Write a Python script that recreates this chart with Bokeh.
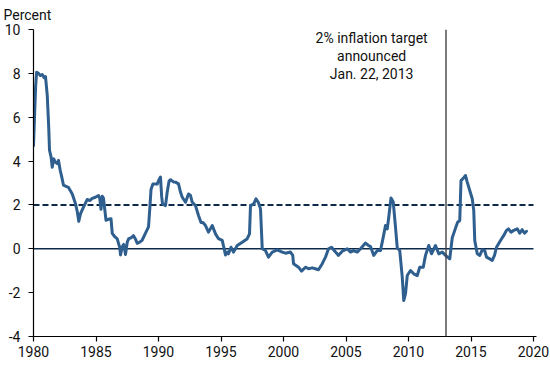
from bokeh.plotting import figure
from bokeh.models import Span, FixedTicker
from bokeh.core.properties import value
from bokeh.embed import file_html
from bokeh.resources import INLINE

# ---- data ----
years = [
    1980.00, 1980.08, 1980.17, 1980.25, 1980.40, 1980.55, 1980.70, 1980.85, 1980.96,
    1981.10, 1981.22, 1981.28, 1981.40, 1981.50, 1981.62, 1981.75, 1981.90,
    1982.00, 1982.14, 1982.25, 1982.40, 1982.60, 1982.80,
    1983.10, 1983.36, 1983.50, 1983.62, 1983.76,
    1984.00, 1984.30, 1984.50, 1984.70, 1984.95,
    1985.20, 1985.30, 1985.40, 1985.50, 1985.60, 1985.80,
    1986.00, 1986.20, 1986.30, 1986.50, 1986.70, 1986.90, 1986.96,
    1987.10, 1987.22, 1987.36, 1987.50, 1987.62, 1987.80,
    1988.00, 1988.15, 1988.30, 1988.50, 1988.70, 1988.95,
    1989.20, 1989.30, 1989.40, 1989.55, 1989.90,
    1990.00, 1990.16, 1990.25, 1990.32, 1990.56, 1990.70, 1990.85, 1990.96,
    1991.20, 1991.36, 1991.60, 1991.75, 1991.90,
    1992.16, 1992.40, 1992.56, 1992.70, 1992.96,
    1993.20, 1993.40, 1993.55, 1993.76,
    1994.00, 1994.30, 1994.56, 1994.80,
    1995.10, 1995.25, 1995.36, 1995.50, 1995.60, 1995.80,
    1996.00, 1996.30, 1996.70,
    1997.10, 1997.28, 1997.36, 1997.62, 1997.80,
    1998.00, 1998.16, 1998.30, 1998.56, 1998.80,
    1999.10, 1999.50, 1999.90,
    2000.16, 2000.56, 2000.74, 2000.80,
    2001.20, 2001.44, 2001.76,
    2002.00, 2002.30, 2002.56, 2002.80,
    2003.10, 2003.36, 2003.60, 2003.84,
    2004.16, 2004.40, 2004.70,
    2005.10, 2005.36, 2005.60, 2005.90,
    2006.16, 2006.56, 2006.80, 2006.96,
    2007.22, 2007.50, 2007.76, 2007.98,
    2008.16, 2008.30, 2008.42, 2008.60, 2008.78, 2008.96,
    2009.10, 2009.30, 2009.50, 2009.62, 2009.76, 2009.90,
    2010.16, 2010.42, 2010.70, 2010.90,
    2011.18, 2011.36, 2011.62, 2011.84,
    2012.16, 2012.42, 2012.70, 2012.96,
    2013.30, 2013.50, 2013.70, 2013.92,
    2014.10, 2014.20, 2014.42, 2014.56, 2014.70, 2014.90,
    2015.10, 2015.22, 2015.30, 2015.50, 2015.70, 2015.90,
    2016.10, 2016.24, 2016.50, 2016.70, 2016.88,
    2017.04, 2017.36, 2017.62, 2017.84,
    2018.00, 2018.20, 2018.42, 2018.70, 2018.90,
    2019.10, 2019.28, 2019.44,
]
inflation = [
    4.7, 6.0, 7.4, 8.05, 8.0, 7.9, 7.95, 7.8, 7.85,
    7.0, 5.5, 4.5, 4.2, 3.72, 4.1, 3.95, 3.88,
    4.03, 3.57, 3.3, 2.9, 2.85, 2.8,
    2.5, 2.05, 1.7, 1.25, 1.6,
    1.9, 2.25, 2.2, 2.3, 2.35,
    2.43, 2.3, 1.8, 2.4, 2.3, 1.3,
    1.35, 1.37, 0.7, 0.55, 0.45, 0.05, -0.28,
    0.1, 0.2, -0.26, 0.3, 0.46, 0.5,
    0.6, 0.45, 0.25, 0.3, 0.4, 0.7,
    1.0, 1.8, 2.7, 2.95, 2.95,
    3.1, 3.27, 2.4, 2.05, 1.97, 2.6, 3.1, 3.15,
    3.05, 3.04, 2.96, 2.6, 2.35,
    2.12, 2.5, 2.43, 2.12, 1.97,
    1.52, 1.2, 1.2, 1.06,
    0.76, 1.06, 0.68, 0.46,
    0.38, 0.0, -0.28, -0.15, -0.23, 0.07,
    -0.15, 0.15, 0.3,
    0.46, 0.68, 1.97, 2.05, 2.28,
    2.1, 1.82, 0.0, -0.08, -0.38,
    -0.15, -0.05, -0.15,
    -0.2, -0.15, -0.3, -0.68,
    -0.84, -1.02, -0.84,
    -0.91, -0.87, -0.91, -0.96,
    -0.68, -0.38, 0.0, 0.07,
    -0.15, -0.3, -0.11,
    0.0, -0.15, -0.08, -0.15,
    0.0, 0.26, 0.15, 0.1,
    -0.3, -0.08, -0.08, 0.53,
    1.06, 0.91, 1.44, 2.32, 2.13, 0.99,
    0.04, -0.08, -1.29, -2.36, -2.05, -1.22,
    -0.99, -1.14, -1.22, -0.84,
    -0.84, -0.3, 0.15, -0.23,
    0.15, -0.23, -0.15, -0.3,
    -0.46, 0.5, 0.84, 1.2,
    1.29, 3.11, 3.24, 3.34, 3.04, 2.66,
    2.28, 1.75, 0.38, -0.23, -0.3, -0.05,
    -0.08, -0.38, -0.46, -0.53, -0.3,
    0.07, 0.38, 0.61, 0.84,
    0.91, 0.76, 0.84, 0.91, 0.71,
    0.87, 0.71, 0.80,
]
target = 2.0
target_year = 2013
unit_label = "Percent"
note_lines = ["2% inflation target", "announced", "Jan. 22, 2013"]
x_ticks = [1980, 1985, 1990, 1995, 2000, 2005, 2010, 2015, 2020]
y_ticks = [-4, -2, 0, 2, 4, 6, 8, 10]
y_labels = ["-4", "-2", "0", "2", "4", "6", "8", "10"]

FONT = "Roboto"
W, H = 550, 365

p = figure(width=W, height=H, x_range=(1980, 2020.24), y_range=(-4, 10),
           output_backend="svg", toolbar_location=None,
           min_border_left=33, min_border_right=14, min_border_top=29,
           min_border_bottom=29, title=unit_label)
p.outline_line_color = None
p.grid.visible = False
p.background_fill_color = "white"
p.border_fill_color = "white"

p.title.text_font = FONT
p.title.text_font_size = "14px"
p.title.text_font_style = "normal"
p.title.text_color = "#111111"
p.title.align = "left"
p.title.vertical_align = "top"
p.title.offset = -30
p.title.standoff = 10

for ax in (p.xaxis[0], p.yaxis[0]):
    ax.axis_line_color = "black"
    ax.axis_line_width = 1.2
    ax.major_tick_line_color = "black"
    ax.major_tick_line_width = 1.2
    ax.major_tick_in = 0
    ax.major_tick_out = 5
    ax.minor_tick_line_color = None
    ax.major_label_text_font = FONT
    ax.major_label_text_font_size = "14px"
    ax.major_label_text_color = "#111111"
    ax.major_label_standoff = 3

p.xaxis.major_label_standoff = 4
p.yaxis.major_label_text_align = "center"
p.yaxis.major_label_standoff = 8
p.xaxis.ticker = FixedTicker(ticks=x_ticks)
p.yaxis.ticker = FixedTicker(ticks=y_ticks)
p.yaxis.major_label_overrides = {t: s for t, s in zip(y_ticks, y_labels)}
p.xaxis.major_label_overrides = {t: str(t) for t in x_ticks}

# reference lines
p.segment(x0=[x_ticks[0]], x1=[x_ticks[-1]], y0=[0], y1=[0],
          line_color="#0d2a4a", line_width=1.4)
p.segment(x0=[x_ticks[0]], x1=[x_ticks[-1]], y0=[target], y1=[target],
          line_color="#0d2a4a", line_width=2, line_dash="6 3")

p.add_layout(Span(location=target_year, dimension="height",
                  line_color="#444444", line_width=1.4))

p.line(years, inflation, line_color="#2f5f8f", line_width=3,
       line_join="round", line_cap="round")

note_x = 2007.05
note_y = [9.59, 8.78, 7.99]
p.text(x=[note_x] * len(note_lines), y=note_y, text=note_lines,
       text_align="center", text_baseline="middle",
       text_font=value(FONT), text_font_size="14px", text_color="#111111")

open("out.html", "w").write(file_html(p, INLINE))
